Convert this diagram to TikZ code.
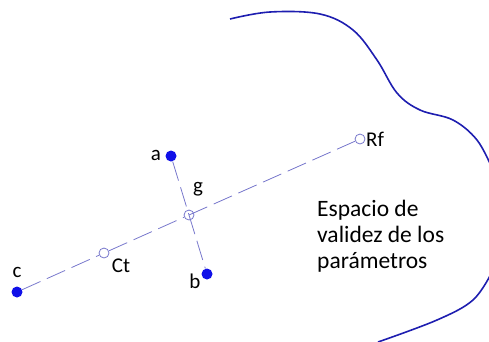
\documentclass[tikz,border=0pt]{standalone}
\usepackage{fontspec}
\setmainfont{Carlito}
\usepackage{xcolor}
\usetikzlibrary{positioning}
\definecolor{Dot}{HTML}{1010E8}
\definecolor{Guide}{HTML}{7878CC}
\definecolor{Edge}{HTML}{1E1EB0}
\begin{document}
\begin{tikzpicture}[x=1pt,y=-1pt,
  full/.style={circle,fill=Dot,inner sep=0pt,minimum size=11pt},
  hollow/.style={circle,draw=Guide,fill=white,line width=.8pt,inner sep=0pt,minimum size=10pt},
  guide/.style={Guide,line width=.8pt,dash pattern=on 20pt off 7pt},
  tag/.style={font=\fontsize{21}{25}\selectfont,inner sep=1pt}]
\useasboundingbox (0,0) rectangle (489,341);
% border of the valid region
\draw[Edge,line width=1.6pt] plot[smooth,tension=.6] coordinates {(230,19) (270,12) (320,14) (353,30) (377,60) (397,93) (420,110) (453,120) (477,140) (492,168)};
\draw[Edge,line width=1.6pt] plot[smooth,tension=.6] coordinates {(492,272) (473,300) (437,320) (378,342)};
% points
\node[full] (c) at (17,292) {};
\node[hollow] (ct) at (104,253) {};
\node[hollow,fill=none] (g) at (189,215) {};
\node[hollow] (rf) at (360,139) {};
\node[full] (a) at (171,156) {};
\node[full] (b) at (207,274) {};
\draw[guide] (c)--(ct);
\draw[guide] (ct)--(g);
\draw[guide] (g.center)--(rf);
\draw[guide] (a)--(g.center);
\draw[guide] (g.center)--(b);
% labels
\node[tag] (la) at (156,155) {a};
\node[tag] (lg) at (198,189) {g};
\node[tag] (lct) at (121,266) {Ct};
\node[tag] (lb) at (195,281) {b};
\node[tag] (lc) at (17,272) {c};
\node[tag,anchor=west] (lrf) at (365,139) {Rf};
\node[tag,font=\fontsize{23.5}{26}\selectfont,align=left,anchor=north west] (zone) at (316,199) {Espacio de\\validez de los\\parámetros};
\end{tikzpicture}
\end{document}
